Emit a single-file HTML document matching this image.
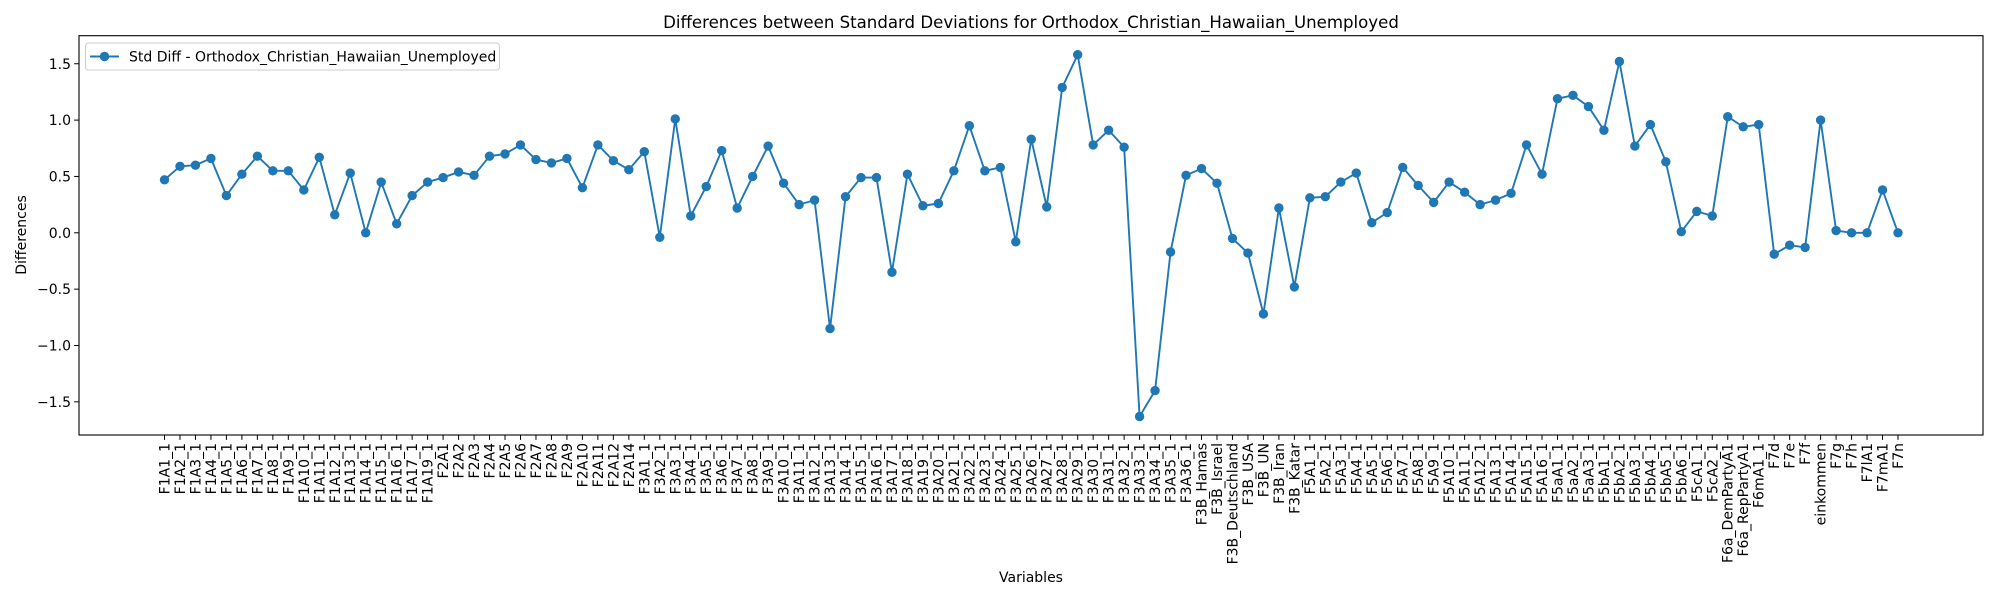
<!DOCTYPE html>
<html><head><meta charset="utf-8">
<style>
html,body{margin:0;padding:0;background:#fff;}
svg{display:block;font-family:"DejaVu Sans","Liberation Sans",sans-serif;}
</style></head>
<body>
<svg id="chart" width="2000" height="600" viewBox="0 0 2000 600" xmlns="http://www.w3.org/2000/svg">
<rect width="2000" height="600" fill="#fff"/>
<text x="1031" y="28" font-size="16.6" text-anchor="middle" fill="#000">Differences between Standard Deviations for Orthodox_Christian_Hawaiian_Unemployed</text>
<text x="1031" y="582" font-size="14" text-anchor="middle" fill="#000">Variables</text>
<text transform="translate(26,235) rotate(-90)" font-size="14" text-anchor="middle" fill="#000">Differences</text>
<g id="yaxis"></g>
<g id="xaxis"></g>
<g id="series"></g>
<rect x="79" y="35.7" width="1904" height="399.3" fill="none" stroke="#000" stroke-width="1.1"/>
<g>
<rect x="85.5" y="43" width="414" height="27" rx="3" fill="#fff" fill-opacity="0.8" stroke="#ccc" stroke-width="1"/>
<line x1="90" y1="56.5" x2="119" y2="56.5" stroke="#1f77b4" stroke-width="2"/>
<circle cx="104.5" cy="56.5" r="4.7" fill="#1f77b4"/>
<text x="129" y="61.5" font-size="14" fill="#000">Std Diff - Orthodox_Christian_Hawaiian_Unemployed</text>
</g>
</svg>
<script>
const categories = ["F1A1_1","F1A2_1","F1A3_1","F1A4_1","F1A5_1","F1A6_1","F1A7_1","F1A8_1","F1A9_1","F1A10_1","F1A11_1","F1A12_1","F1A13_1","F1A14_1","F1A15_1","F1A16_1","F1A17_1","F1A19_1","F2A1","F2A2","F2A3","F2A4","F2A5","F2A6","F2A7","F2A8","F2A9","F2A10","F2A11","F2A12","F2A14","F3A1_1","F3A2_1","F3A3_1","F3A4_1","F3A5_1","F3A6_1","F3A7_1","F3A8_1","F3A9_1","F3A10_1","F3A11_1","F3A12_1","F3A13_1","F3A14_1","F3A15_1","F3A16_1","F3A17_1","F3A18_1","F3A19_1","F3A20_1","F3A21_1","F3A22_1","F3A23_1","F3A24_1","F3A25_1","F3A26_1","F3A27_1","F3A28_1","F3A29_1","F3A30_1","F3A31_1","F3A32_1","F3A33_1","F3A34_1","F3A35_1","F3A36_1","F3B_Hamas","F3B_Israel","F3B_Deutschland","F3B_USA","F3B_UN","F3B_Iran","F3B_Katar","F5A1_1","F5A2_1","F5A3_1","F5A4_1","F5A5_1","F5A6_1","F5A7_1","F5A8_1","F5A9_1","F5A10_1","F5A11_1","F5A12_1","F5A13_1","F5A14_1","F5A15_1","F5A16_1","F5aA1_1","F5aA2_1","F5aA3_1","F5bA1_1","F5bA2_1","F5bA3_1","F5bA4_1","F5bA5_1","F5bA6_1","F5cA1_1","F5cA2_1","F6a_DemPartyA1","F6a_RepPartyA1","F6mA1_1","F7d","F7e","F7f","einkommen","F7g","F7h","F7lA1","F7mA1","F7n"];
const stdDiff = [0.47,0.59,0.60,0.66,0.33,0.52,0.68,0.55,0.55,0.38,0.67,0.16,0.53,0.00,0.45,0.08,0.33,0.45,0.49,0.54,0.51,0.68,0.70,0.78,0.65,0.62,0.66,0.40,0.78,0.64,0.56,0.72,-0.04,1.01,0.15,0.41,0.73,0.22,0.50,0.77,0.44,0.25,0.29,-0.85,0.32,0.49,0.49,-0.35,0.52,0.24,0.26,0.55,0.95,0.55,0.58,-0.08,0.83,0.23,1.29,1.58,0.78,0.91,0.76,-1.63,-1.40,-0.17,0.51,0.57,0.44,-0.05,-0.18,-0.72,0.22,-0.48,0.31,0.32,0.45,0.53,0.09,0.18,0.58,0.42,0.27,0.45,0.36,0.25,0.29,0.35,0.78,0.52,1.19,1.22,1.12,0.91,1.52,0.77,0.96,0.63,0.01,0.19,0.15,1.03,0.94,0.96,-0.19,-0.11,-0.13,1.00,0.02,0.00,0.00,0.38,0.00];
const yTicks = [-1.5,-1.0,-0.5,0.0,0.5,1.0,1.5];
const yTickLabels = ["\u22121.5","\u22121.0","\u22120.5","0.0","0.5","1.0","1.5"];

const NS = "http://www.w3.org/2000/svg";
const plotL = 79, plotR = 1983, plotT = 35.7, plotB = 435;
const firstX = 164.5, lastX = 1898;
function xScale(i){ return firstX + (lastX - firstX) * i / (categories.length - 1); }
function yScale(v){ return 232.8 - v * 112.7; }
function mk(tag, attrs){ const e = document.createElementNS(NS, tag); for (const k in attrs) e.setAttribute(k, attrs[k]); return e; }

const yaxis = document.getElementById('yaxis');
yTicks.forEach((t, i) => {
  const y = yScale(t);
  const tk = mk('line', {x1: plotL - 4.9, x2: plotL, y1: y, y2: y, stroke: '#000', 'stroke-width': 1});
  
  
  yaxis.appendChild(tk);
  const lb = mk('text', {x: plotL - 8, y: y + 5, 'font-size': 14, 'text-anchor': 'end', fill: '#000'});
  lb.textContent = yTickLabels[i];
  
  
  yaxis.appendChild(lb);
});

const xaxis = document.getElementById('xaxis');
categories.forEach((c, i) => {
  const x = xScale(i);
  const tk = mk('line', {x1: x, x2: x, y1: plotB, y2: plotB + 4.9, stroke: '#000', 'stroke-width': 1});
  
  
  xaxis.appendChild(tk);
  const lb = mk('text', {transform: 'translate(' + (x + 5) + ',' + (plotB + 8) + ') rotate(-90)', 'font-size': 14, 'text-anchor': 'end', fill: '#000'});
  lb.textContent = c;
  
  
  xaxis.appendChild(lb);
});

const series = document.getElementById('series');
const pts = stdDiff.map((v, i) => xScale(i).toFixed(2) + ',' + yScale(v).toFixed(2)).join(' ');
const line = mk('polyline', {points: pts, fill: 'none', stroke: '#1f77b4', 'stroke-width': 1.9, 'stroke-linejoin': 'round'});


series.appendChild(line);
stdDiff.forEach((v, i) => {
  const p = mk('circle', {cx: xScale(i), cy: yScale(v), r: 4.7, fill: '#1f77b4'});
  
  
  series.appendChild(p);
});
</script>
</body></html>
